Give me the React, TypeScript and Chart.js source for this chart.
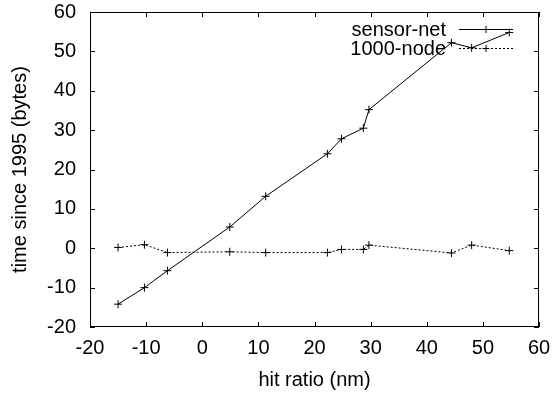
import React, { useEffect, useRef } from "react";
import { Chart, registerables } from "chart.js";

Chart.register(...registerables);

const xValues = [-15.0, -10.3, -6.2, 4.9, 11.3, 22.3, 24.8, 28.7, 29.7, 44.4, 48.0, 54.7];
const sensorNet = [-14.2, -10.0, -5.7, 5.4, 13.2, 24.0, 27.8, 30.5, 35.2, 52.2, 50.9, 54.8];
const node1000 = [0.2, 0.9, -1.1, -0.9, -1.1, -1.1, -0.3, -0.3, 0.8, -1.2, 0.8, -0.6];
const seriesLabels = ["sensor-net", "1000-node"];
const xTicks = [-20, -10, 0, 10, 20, 30, 40, 50, 60];
const yTicks = [-20, -10, 0, 10, 20, 30, 40, 50, 60];
const xTitle = "hit ratio (nm)";
const yTitle = "time since 1995 (bytes)";

const FONT = "'Liberation Sans', Arial, sans-serif";

const frame = {
  id: "frame",
  afterDatasetsDraw(chart: any) {
    const { ctx, chartArea: a, scales } = chart;
    ctx.save();
    ctx.strokeStyle = "#000";
    ctx.lineWidth = 1;
    ctx.strokeRect(a.left + 0.5, a.top + 0.5, a.right - a.left - 1, a.bottom - a.top - 1);
    const L = 5;
    ctx.beginPath();
    for (const t of xTicks) {
      const px = Math.round(scales.x.getPixelForValue(t)) + 0.5;
      ctx.moveTo(px, a.bottom);
      ctx.lineTo(px, a.bottom - L);
      ctx.moveTo(px, a.top);
      ctx.lineTo(px, a.top + L);
    }
    for (const t of yTicks) {
      const py = Math.round(scales.y.getPixelForValue(t)) + 0.5;
      ctx.moveTo(a.left, py);
      ctx.lineTo(a.left + L, py);
      ctx.moveTo(a.right, py);
      ctx.lineTo(a.right - L, py);
    }
    ctx.stroke();

    // gnuplot-style key
    const ds = chart.data.datasets;
    const textRight = a.right - 93;
    const sx0 = a.right - 80;
    const sx1 = a.right - 26;
    ctx.font = "20px " + FONT;
    ctx.textAlign = "right";
    ctx.textBaseline = "middle";
    ds.forEach((d: any, i: number) => {
      const y = a.top + 17.5 + i * 19;
      ctx.fillStyle = "#000";
      ctx.fillText(d.label, textRight, y + 1);
      ctx.beginPath();
      ctx.strokeStyle = d.borderColor;
      ctx.setLineDash(d.borderDash || []);
      ctx.moveTo(sx0, y);
      ctx.lineTo(sx1, y);
      ctx.stroke();
      ctx.setLineDash([]);
      const cx = (sx0 + sx1) / 2;
      ctx.beginPath();
      ctx.strokeStyle = "#000";
      ctx.moveTo(cx - 3.5, y);
      ctx.lineTo(cx + 3.5, y);
      ctx.moveTo(cx, y - 3.5);
      ctx.lineTo(cx, y + 3.5);
      ctx.stroke();
    });
    ctx.restore();
  },
};

export default function App() {
  const ref = useRef<HTMLCanvasElement>(null);
  useEffect(() => {
    if (!ref.current) return;
    const mk = (vals: number[]) => xValues.map((x, i) => ({ x, y: vals[i] }));
    const chart = new Chart(ref.current, {
      type: "scatter",
      data: {
        datasets: [
          {
            label: seriesLabels[0],
            data: mk(sensorNet),
            showLine: true,
            borderColor: "#000",
            backgroundColor: "#000",
            borderWidth: 1,
            pointStyle: "cross",
            pointRadius: 4,
            pointBorderWidth: 1,
            pointBorderColor: "#000",
          },
          {
            label: seriesLabels[1],
            data: mk(node1000),
            showLine: true,
            borderColor: "#000",
            backgroundColor: "#000",
            borderWidth: 1,
            borderDash: [2, 2],
            pointStyle: "cross",
            pointRadius: 4,
            pointBorderWidth: 1,
            pointBorderColor: "#000",
          },
        ],
      },
      options: {
        responsive: false,
        animation: false,
        devicePixelRatio: 1,
        layout: { padding: { left: 0, right: 15, top: 12, bottom: 0 } },
        plugins: { legend: { display: false }, tooltip: { enabled: false } },
        scales: {
          x: {
            type: "linear",
            min: -20,
            max: 60,
            afterBuildTicks: (s: any) => {
              s.ticks = xTicks.map((v) => ({ value: v }));
            },
            afterFit: (s: any) => {
              s.height = 70;
              s.paddingLeft = 0;
              s.paddingRight = 0;
              s.paddingTop = 0;
              s.paddingBottom = 0;
            },
            grid: { display: false, drawTicks: false },
            border: { display: false },
            ticks: {
              color: "#000",
              font: { family: FONT, size: 20 },
              padding: 9,
              maxRotation: 0,
              autoSkip: false,
            },
            title: {
              display: true,
              text: xTitle,
              color: "#000",
              font: { family: FONT, size: 20 },
              padding: { top: 0, bottom: 5 },
            },
          },
          y: {
            type: "linear",
            min: -20,
            max: 60,
            afterBuildTicks: (s: any) => {
              s.ticks = yTicks.map((v) => ({ value: v }));
            },
            afterFit: (s: any) => {
              s.width = 90;
              s.paddingLeft = 0;
              s.paddingRight = 0;
              s.paddingTop = 0;
              s.paddingBottom = 0;
            },
            grid: { display: false, drawTicks: false },
            border: { display: false },
            ticks: {
              color: "#000",
              font: { family: FONT, size: 20 },
              padding: 14,
              autoSkip: false,
            },
            title: {
              display: true,
              text: yTitle,
              color: "#000",
              font: { family: FONT, size: 20 },
              padding: { top: 8, bottom: 0 },
            },
          },
        },
      },
      plugins: [frame],
    } as any);
    return () => chart.destroy();
  }, []);
  return (
    <div style={{ position: "fixed", left: 0, top: 0, width: 554, height: 397, background: "#fff" }}>
      <canvas ref={ref} width={554} height={397} />
    </div>
  );
}
